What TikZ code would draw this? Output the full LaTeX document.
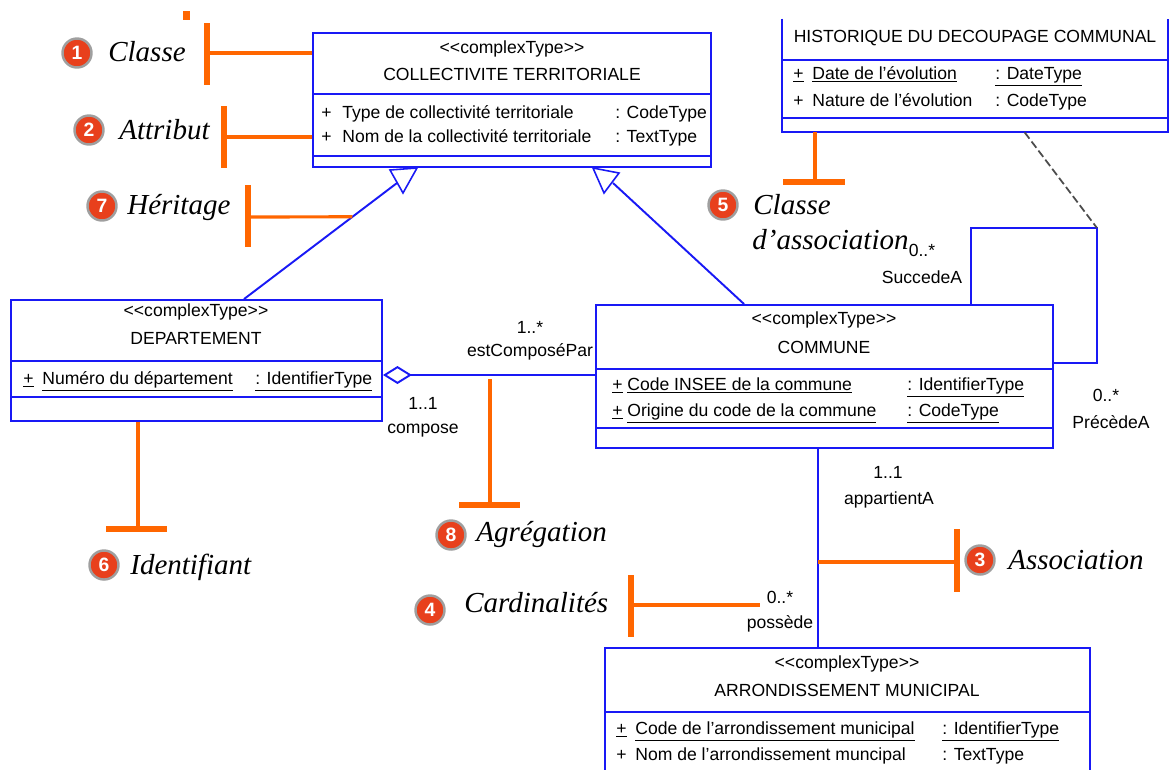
\documentclass[tikz,border=0pt]{standalone}
\usepackage{fontspec}
\setmainfont{Liberation Serif}
\setsansfont{Liberation Sans}
\usepackage{tikz}
\usetikzlibrary{positioning, arrows.meta, calc, fit}

\definecolor{umlblue}{RGB}{25,25,245}
\definecolor{markorange}{RGB}{255,102,0}
\definecolor{numred}{RGB}{232,64,28}
\newcommand{\umlfont}{\sffamily\fontsize{10}{12}\selectfont}
\newcommand{\uln}[1]{\underline{#1}}

\begin{document}
\begin{tikzpicture}[
  x=0.02cm, y=-0.02cm,
  umlbox/.style={draw=umlblue, line width=1.1pt, inner sep=0pt},
  umlline/.style={umlblue, line width=1.1pt},
  umltxt/.style={font=\umlfont, inner sep=0pt, anchor=base},
  attr/.style={umltxt, anchor=base west},
  card/.style={umltxt},
  markline/.style={markorange, line width=1.8pt},
  markbar/.style={markorange, line width=3.6pt},
  numdot/.style={circle, fill=numred, draw=gray!75, line width=1.4pt,
                 minimum size=0.58cm, inner sep=0pt, text=white,
                 font=\sffamily\bfseries\fontsize{11}{11}\selectfont},
  calltxt/.style={font=\fontsize{16.5}{18}\selectfont\itshape,
                  inner sep=0pt, anchor=base west}
]
\useasboundingbox (0,0) rectangle (1169,769);
\clip (0,0) rectangle (1169,769);

% ---- Classes ----
\node[umlbox, fit={(313,33) (711,167)}] (coll) {};
\draw[umlline] (coll.west |- 0,94) -- (coll.east |- 0,94);
\draw[umlline] (coll.west |- 0,156) -- (coll.east |- 0,156);

\node[inner sep=0pt, fit={(782,19) (1168,132)}] (hist) {};
\draw[umlline] (hist.north west) -- (hist.south west) -- (hist.south east) -- (hist.north east);
\draw[umlline] (hist.west |- 0,60) -- (hist.east |- 0,60);
\draw[umlline] (hist.west |- 0,118) -- (hist.east |- 0,118);

\node[umlbox, fit={(11,300) (382,421)}] (dep) {};
\draw[umlline] (dep.west |- 0,361) -- (dep.east |- 0,361);
\draw[umlline] (dep.west |- 0,397) -- (dep.east |- 0,397);

\node[umlbox, fit={(596,305) (1053,448)}] (comm) {};
\draw[umlline] (comm.west |- 0,369) -- (comm.east |- 0,369);
\draw[umlline] (comm.west |- 0,428) -- (comm.east |- 0,428);

\node[umlbox, fit={(605,648) (1090,800)}] (arr) {};
\draw[umlline] (arr.west |- 0,712) -- (arr.east |- 0,712);

% ---- Class texts ----
\node[umltxt] (collst) at (512,53) {<{}<complexType>{}>};
\node[umltxt] (colltt) at (512,80) {COLLECTIVITE TERRITORIALE};
\node[attr] (collp1) at (321,118) {+};
\node[attr] (colln1) at (342,118) {Type de collectivité territoriale};
\node[attr] (collt1) at (615,118) {: CodeType};
\node[attr] (collp2) at (321,142) {+};
\node[attr] (colln2) at (342,142) {Nom de la collectivité territoriale};
\node[attr] (collt2) at (615,142) {: TextType};

\node[umltxt] (histtt) at (975,42) {HISTORIQUE DU DECOUPAGE COMMUNAL};
\node[attr] (histp1) at (793,79) {\uln{+}};
\node[attr] (histn1) at (812,79) {\uln{Date de l'évolution}};
\node[attr] (histt1) at (995,79) {\uln{: DateType}};
\node[attr] (histp2) at (793,106) {+};
\node[attr] (histn2) at (812,106) {Nature de l'évolution};
\node[attr] (histt2) at (995,106) {: CodeType};

\node[umltxt] (depst) at (196,316) {<{}<complexType>{}>};
\node[umltxt] (deptt) at (196,344) {DEPARTEMENT};
\node[attr] (depp1) at (23,384) {\uln{+}};
\node[attr] (depn1) at (42,384) {\uln{Numéro du département}};
\node[attr] (dept1) at (255,384) {\uln{: IdentifierType}};

\node[umltxt] (commst) at (824,324) {<{}<complexType>{}>};
\node[umltxt] (commtt) at (824,353) {COMMUNE};
\node[attr] (commp1) at (612,390) {\uln{+}};
\node[attr] (commn1) at (627,390) {\uln{Code INSEE de la commune}};
\node[attr] (commt1) at (907,390) {\uln{: IdentifierType}};
\node[attr] (commp2) at (612,416) {\uln{+}};
\node[attr] (commn2) at (627,416) {\uln{Origine du code de la commune}};
\node[attr] (commt2) at (907,416) {\uln{: CodeType}};

\node[umltxt] (arrst) at (847,668) {<{}<complexType>{}>};
\node[umltxt] (arrtt) at (847,696) {ARRONDISSEMENT MUNICIPAL};
\node[attr] (arrp1) at (616,734) {\uln{+}};
\node[attr] (arrn1) at (635,734) {\uln{Code de l'arrondissement municipal}};
\node[attr] (arrt1) at (942,734) {\uln{: IdentifierType}};
\node[attr] (arrp2) at (616,760) {+};
\node[attr] (arrn2) at (635,760) {Nom de l'arrondissement muncipal};
\node[attr] (arrt2) at (942,760) {: TextType};

% ---- Heritage ----
\coordinate (depup) at ($(dep.north west)+(234,0)$);
\coordinate (commup) at ($(comm.north west)+(149,0)$);
\coordinate (tri1) at (397,183);
\coordinate (tri2) at (613,183);
\draw[umlline] (depup) -- (tri1);
\draw[umlline] (commup) -- (tri2);
\draw[umlblue, line width=0.9pt, fill=white] (390,170) -- (417,168) -- (403,193) -- cycle;
\draw[umlblue, line width=0.9pt, fill=white] (593,168) -- (619,173) -- (604,193) -- cycle;

% ---- Associations ----
\draw[umlline, {Diamond[open, length=0.58cm, width=0.36cm]}-]
  (dep.east |- 0,375) -- (comm.west |- 0,375);

\coordinate (selfc) at (1097,228);
\draw[umlline] ($(comm.north west)+(376,0)$) |- (selfc) |- ($(comm.north east)+(0,59)$);
\draw[black!70, line width=1pt, dash pattern=on 4.5pt off 2pt]
  ($(hist.south west)+(243,0)$) -- (selfc);

\coordinate (apptop) at ($(comm.south west)+(223,0)$);
\draw[umlline] (apptop) -- (apptop |- arr.north);

% ---- Cardinalities ----
\node[card] (c1a) at (530,333) {1..*};
\node[card] (c1b) at (530,356) {estComposéPar};
\node[card] (c2a) at (423,409) {1..1};
\node[card] (c2b) at (423,433) {compose};
\node[card] (c3a) at (922,256) {0..*};
\node[card] (c3b) at (922,283) {SuccedeA};
\node[card] (c4a) at (1106,401) {0..*};
\node[card] (c4b) at (1111,428) {PrécèdeA};
\node[card] (c5a) at (888,478) {1..1};
\node[card] (c5b) at (889,504) {appartientA};
\node[card] (c6a) at (780,603) {0..*};
\node[card] (c6b) at (780,628) {possède};

% ---- Callouts ----
\fill[markorange] (183,11) rectangle (190,20);

\coordinate (m1) at (207,53);
\draw[markbar] (207,23) -- (207,85);
\draw[markline] (m1) -- (m1 -| coll.west);

\coordinate (m2) at (224,137);
\draw[markbar] (224,106) -- (224,168);
\draw[markline] (m2) -- (m2 -| coll.west);

\coordinate (m7) at (248,217);
\path (depup) -- (tri1) coordinate[pos=0.709] (h7);
\draw[markbar] (248,185) -- (248,247);
\draw[markline] (m7) -- (h7);

\coordinate (m5) at (815,182);
\draw[markbar] (783,182) -- (845,182);
\draw[markline] (m5 |- hist.south) -- (m5);

\coordinate (m6) at (138,529);
\draw[markbar] (106,529) -- (167,529);
\draw[markline] (m6 |- dep.south) -- (m6);

\coordinate (m8) at (490,505);
\draw[markbar] (459,505) -- (520,505);
\draw[markline] (490,379) -- (m8);

\coordinate (m3) at (957,562);
\draw[markbar] (957,529) -- (957,592);
\draw[markline] (apptop |- m3) -- (m3);

\coordinate (m4) at (631,605);
\draw[markbar] (631,575) -- (631,637);
\draw[markline] (m4) -- (760,605);

% ---- Numbered labels ----
\node[numdot] (n1) at (77,53) {1};
\node[calltxt] (l1) at (108,61) {Classe};
\node[numdot] (n2) at (89,130) {2};
\node[calltxt] (l2) at (119,139) {Attribut};
\node[numdot] (n7) at (102,206) {7};
\node[calltxt] (l7) at (127,214) {Héritage};
\node[numdot] (n5) at (723,205) {5};
\node[calltxt] (l5a) at (753,214) {Classe};
\node[calltxt] (l5b) at (752,249) {d'association};
\node[numdot] (n6) at (104,565) {6};
\node[calltxt] (l6) at (130,574) {Identifiant};
\node[numdot] (n8) at (451,535) {8};
\node[calltxt] (l8) at (476,541) {Agrégation};
\node[numdot] (n3) at (980,560) {3};
\node[calltxt] (l3) at (1008,569) {Association};
\node[numdot] (n4) at (430,610) {4};
\node[calltxt] (l4) at (464,612) {Cardinalités};

\end{tikzpicture}
\end{document}
